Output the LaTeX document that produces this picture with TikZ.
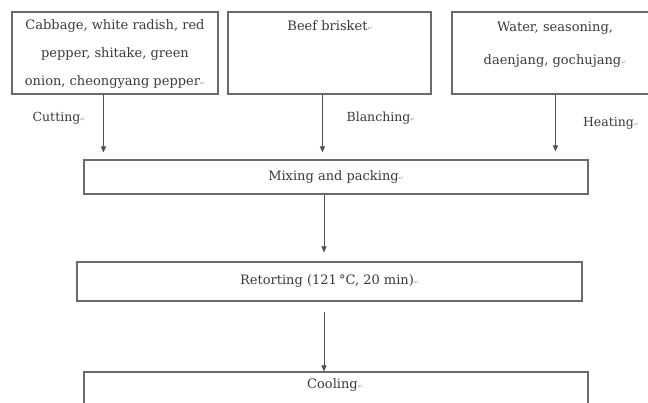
\documentclass[tikz,border=0pt]{standalone}
\usepackage{fontspec}
\setmainfont{DejaVu Serif}
\newfontfamily\symfont{DejaVu Sans}
\usetikzlibrary{arrows.meta,calc}
\definecolor{linec}{HTML}{6A6A6A}
\definecolor{textc}{HTML}{3A3A3A}
\definecolor{markc}{HTML}{9A9A9A}
\newcommand{\rmk}{{\symfont\fontsize{6}{6}\selectfont\color{markc}↵}}
\tikzset{
  box/.style={draw=linec, line width=1.1pt, rectangle, inner sep=0pt, text=textc,
              font=\fontsize{13}{28}\selectfont, align=center},
  txt/.style={inner sep=0pt, text=textc, font=\fontsize{13}{28}\selectfont, align=center},
  lbl/.style={inner sep=0pt, text=textc, font=\fontsize{12.5}{14}\selectfont},
  arr/.style={draw=linec!75!black, line width=1pt, -{Triangle[length=6pt,width=5pt]}}
}
\begin{document}
\begin{tikzpicture}[x=1pt,y=-1pt]
\useasboundingbox (0,0) rectangle (648,402);
\clip (0,0) rectangle (648,402);
\fill[white] (0,0) rectangle (648,402);
% top boxes
\node[box, minimum width=206pt, minimum height=82pt] (veg) at (115,53) {};
\node[txt] (vegt) at (115,54) {Cabbage, white radish, red\\ pepper, shitake, green\\ onion, cheongyang pepper\rmk};
\node[box, minimum width=203pt, minimum height=82pt] (beef) at (329.5,53) {};
\node[txt] (beeft) at (330,26) {Beef brisket\rmk};
\node[box, minimum width=208pt, minimum height=82pt] (water) at (556,53) {};
\node[txt, font=\fontsize{13}{33}\selectfont] (watert) at (555,44.5) {Water, seasoning,\\ daenjang, gochujang\rmk};
% labels
\node[lbl] (cut) at (59,118) {Cutting\rmk};
\node[lbl] (blanch) at (381,118) {Blanching\rmk};
\node[lbl] (heat) at (611,123) {Heating\rmk};
% process boxes
\node[box, minimum width=504pt, minimum height=34pt] (mix) at (336,177) {Mixing and packing\rmk};
\node[box, minimum width=505pt, minimum height=39pt] (ret) at (329.5,281.5) {Retorting (121\,°C, 20 min)\rmk};
\node[box, minimum width=504pt, minimum height=60pt] (cool) at (336,402) {};
\node[txt] (coolt) at (335,385) {Cooling\rmk};
% arrows
\draw[arr, shorten >=7pt] ([xshift=92pt]veg.south west) -- ([xshift=92pt]veg.south west |- mix.north);
\draw[arr, shorten >=7pt] ([xshift=95pt]beef.south west) -- ([xshift=95pt]beef.south west |- mix.north);
\draw[arr, shorten >=8pt] ([xshift=104pt]water.south west) -- ([xshift=104pt]water.south west |- mix.north);
\draw[arr, shorten >=9pt] ([xshift=-12pt]mix.south) -- ([xshift=-12pt]mix.south |- ret.north);
\draw[arr, shorten <=10pt] ([xshift=-5.5pt]ret.south) -- ([xshift=-5.5pt]ret.south |- cool.north);
\end{tikzpicture}
\end{document}
